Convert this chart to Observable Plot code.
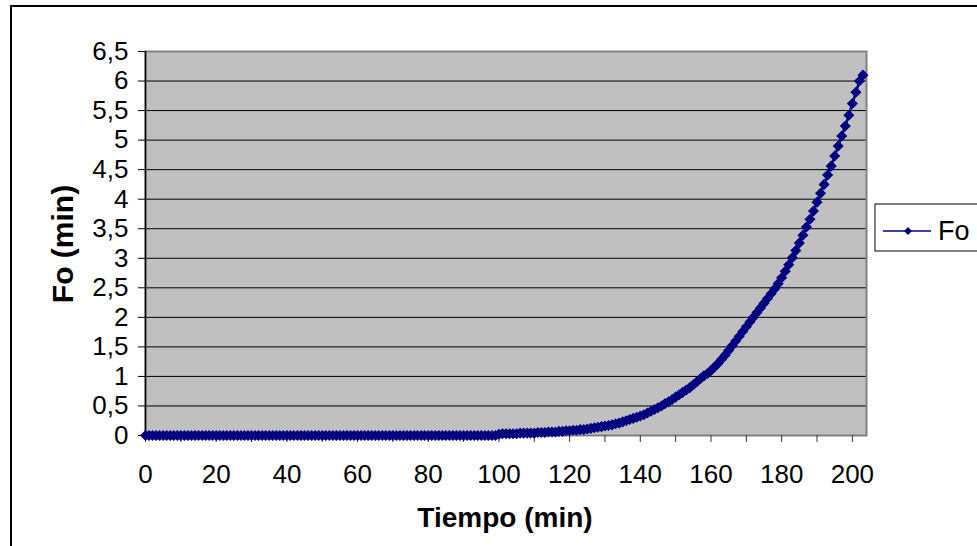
<!DOCTYPE html>
<html>
<head>
<meta charset="utf-8">
<script src="https://cdn.jsdelivr.net/npm/d3@7"></script>
<script src="https://cdn.jsdelivr.net/npm/@observablehq/plot@0.6"></script>
<style>
  html, body { margin: 0; padding: 0; background: white; overflow: hidden; }
  #chart svg { display: block; }
</style>
</head>
<body>
<div id="chart"></div>
<script>
// Tiempo (min)
const tiempo = [
  0,1,2,3,4,5,6,7,8,9,10,11,12,13,14,15,16,17,18,19,
  20,21,22,23,24,25,26,27,28,29,30,31,32,33,34,35,36,37,38,39,
  40,41,42,43,44,45,46,47,48,49,50,51,52,53,54,55,56,57,58,59,
  60,61,62,63,64,65,66,67,68,69,70,71,72,73,74,75,76,77,78,79,
  80,81,82,83,84,85,86,87,88,89,90,91,92,93,94,95,96,97,98,99,
  100,101,102,103,104,105,106,107,108,109,110,111,112,113,114,115,116,117,118,119,
  120,121,122,123,124,125,126,127,128,129,130,131,132,133,134,135,136,137,138,139,
  140,141,142,143,144,145,146,147,148,149,150,151,152,153,154,155,156,157,158,159,
  160,161,162,163,164,165,166,167,168,169,170,171,172,173,174,175,176,177,178,179,
  180,181,182,183,184,185,186,187,188,189,190,191,192,193,194,195,196,197,198,199,
  200,201,202,203
];
// Fo (min)
const fo = [
  0,0,0,0,0,0,0,0,0,0,0,0,0,0,0,0,0,0,0,0,
  0,0,0,0,0,0,0,0,0,0,0,0,0,0,0,0,0,0,0,0,
  0,0,0,0,0,0,0,0,0,0,0,0,0,0,0,0,0,0,0,0,
  0,0,0,0,0,0,0,0,0,0,0,0,0,0,0,0,0,0,0,0,
  0,0,0,0,0,0,0,0,0,0,0,0,0,0,0,0,0,0,0,0,
  0.02,0.03,0.03,0.03,0.03,0.03,0.04,0.04,0.04,0.04,0.04,0.05,0.05,0.05,0.06,0.06,0.06,0.07,0.07,0.08,
  0.08,0.09,0.09,0.10,0.10,0.11,0.12,0.13,0.14,0.15,0.16,0.17,0.18,0.20,0.21,0.23,0.25,0.27,0.29,0.31,
  0.33,0.35,0.38,0.41,0.44,0.47,0.50,0.54,0.57,0.61,0.65,0.69,0.73,0.77,0.81,0.86,0.91,0.96,1.01,1.05,
  1.10,1.16,1.22,1.29,1.36,1.44,1.52,1.60,1.68,1.76,1.84,1.92,2.00,2.08,2.16,2.24,2.32,2.40,2.48,2.57,
  2.67,2.78,2.89,3.01,3.13,3.26,3.39,3.53,3.66,3.80,3.95,4.10,4.25,4.41,4.56,4.73,4.90,5.07,5.24,5.42,
  5.62,5.81,6.00,6.10
];
const yTicks = [0,0.5,1,1.5,2,2.5,3,3.5,4,4.5,5,5.5,6,6.5];
const yGrid = [0.5,1,1.5,2,2.5,3,3.5,4,4.5,5,5.5,6];
const xTickMarks = [0,10,20,30,40,50,60,70,80,90,100,110,120,130,140,150,160,170,180,190,200];
const xTickLabels = [0,20,40,60,80,100,120,140,160,180,200];
const seriesName = "Fo";
const xTitle = "Tiempo (min)";
const yTitle = "Fo (min)";

const data = tiempo.map((t, i) => ({t, v: fo[i]}));
const navy = "#000080";
const font = "'Liberation Sans', Arial, sans-serif";

const chart = Plot.plot({
  width: 977,
  height: 546,
  marginLeft: 145,
  marginRight: 111,
  marginTop: 51,
  marginBottom: 111,
  style: {fontFamily: font, background: "white", color: "black"},
  x: {domain: [0, 204], axis: null},
  y: {domain: [0, 6.5], axis: null},
  marks: [
    Plot.frame({fill: "#c0c0c0"}),
    Plot.gridY(yGrid, {stroke: "#000", strokeOpacity: 1, strokeWidth: 1}),
    Plot.frame({stroke: "#808080", strokeWidth: 2}),
    Plot.ruleX([0], {stroke: "#000", strokeWidth: 1.5}),
    Plot.axisY(yTicks, {
      label: null, tickSize: 7, tickPadding: 10, fontSize: 26, stroke: "#000",
      tickFormat: d => String(d).replace(".", ",")
    }),
    Plot.axisX(xTickMarks, {label: null, tickSize: 7, text: null, stroke: "#333"}),
    Plot.axisX(xTickLabels, {label: null, tickSize: 0, tickPadding: 29, fontSize: 26}),
    Plot.line(data, {x: "t", y: "v", stroke: navy, strokeWidth: 2.5}),
    Plot.dot(data, {x: "t", y: "v", symbol: "diamond2", r: 5, fill: navy, stroke: "none"})
  ]
});

document.getElementById("chart").appendChild(chart);

const svg = d3.select(chart);
// outer chart frame
svg.append("rect")
  .attr("x", 11).attr("y", 6).attr("width", 990).attr("height", 600)
  .attr("fill", "none").attr("stroke", "#000").attr("stroke-width", 2);
// axis titles
svg.append("text")
  .attr("x", 505).attr("y", 527)
  .attr("text-anchor", "middle")
  .attr("font-family", font).attr("font-weight", "bold").attr("font-size", 28)
  .text(xTitle);
svg.append("text")
  .attr("transform", "translate(73,244) rotate(-90)")
  .attr("text-anchor", "middle")
  .attr("font-family", font).attr("font-weight", "bold").attr("font-size", 30)
  .text(yTitle);
// legend
const lg = svg.append("g");
lg.append("rect").attr("x", 875).attr("y", 204).attr("width", 120).attr("height", 47)
  .attr("fill", "white").attr("stroke", "#000").attr("stroke-width", 1);
lg.append("line").attr("x1", 883).attr("x2", 931).attr("y1", 231).attr("y2", 231)
  .attr("stroke", navy).attr("stroke-width", 1.5);
lg.append("path").attr("d", d3.symbol(d3.symbolDiamond2, Math.PI * 3.5 * 3.5)())
  .attr("transform", "translate(908,231)").attr("fill", navy);
lg.append("text").attr("x", 938).attr("y", 240)
  .attr("text-anchor", "start")
  .attr("font-family", font).attr("font-size", 27).text(seriesName);
</script>
</body>
</html>
